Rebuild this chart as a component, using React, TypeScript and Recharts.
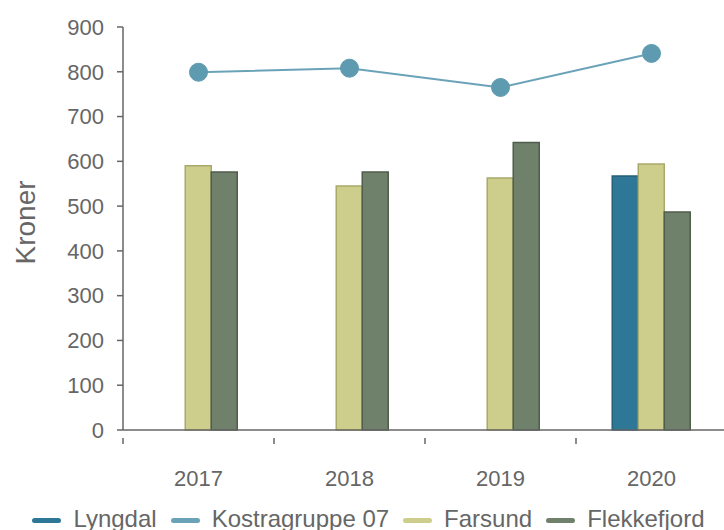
import React from 'react';
import { ComposedChart, Bar, Line, XAxis, YAxis, Legend } from 'recharts';

const years = ['2017', '2018', '2019', '2020'];
const lyngdal = [null, null, null, 567];
const kostragruppe07 = [799, 808, 765, 841];
const farsund = [590, 545, 563, 594];
const flekkefjord = [576, 576, 642, 487];
const yTicks = [0, 100, 200, 300, 400, 500, 600, 700, 800, 900];

const FONT = '"Liberation Sans", Arial, sans-serif';
const AXIS = '#666';

const series = [
  { key: 'Lyngdal', color: '#2f7797' },
  { key: 'Kostragruppe 07', color: '#6aa3b8' },
  { key: 'Farsund', color: '#cdcd8c' },
  { key: 'Flekkefjord', color: '#6f806b' },
];

const data = years.map((year, i) => ({
  year,
  Lyngdal: lyngdal[i],
  'Kostragruppe 07': kostragruppe07[i],
  Farsund: farsund[i],
  Flekkefjord: flekkefjord[i],
}));

// year label in the middle of the band, tick mark at the band's left edge
const YearTick = (props: any) => {
  const { x, y, payload } = props;
  const half = payload.offset || 0;
  return (
    <g>
      <line x1={x - half} x2={x - half} y1={y} y2={y + 6} stroke={AXIS} strokeWidth={1.5} />
      <text x={x} y={y + 48} textAnchor="middle" fill={AXIS} fontSize={22} fontFamily={FONT}>
        {payload.value}
      </text>
    </g>
  );
};

const KronerLabel = (props: any) => {
  const { viewBox } = props;
  const cx = 25;
  const cy = viewBox.y + viewBox.height / 2 - 6;
  return (
    <text
      x={cx}
      y={cy}
      transform={`rotate(-90, ${cx}, ${cy})`}
      textAnchor="middle"
      dominantBaseline="central"
      fill={AXIS}
      fontSize={28}
      fontFamily={FONT}
    >
      Kroner
    </text>
  );
};

const renderLegend = () => (
  <div
    style={{
      display: 'flex',
      justifyContent: 'center',
      height: 40,
      paddingTop: 17,
      paddingLeft: 10,
      boxSizing: 'border-box',
      fontFamily: FONT,
      fontSize: 24,
      lineHeight: '24px',
      color: AXIS,
      whiteSpace: 'nowrap',
    }}
  >
    {series.map((s, i) => (
      <span key={s.key} style={{ display: 'flex', alignItems: 'center', marginRight: i < series.length - 1 ? 14 : 0 }}>
        <span style={{ display: 'inline-block', width: 29, height: 5, borderRadius: 3, background: s.color, marginRight: 12, marginTop: 3 }} />
        {s.key}
      </span>
    ))}
  </div>
);

export default function App() {
  return (
    <div style={{ position: 'absolute', left: 0, top: 0, width: 724, height: 530, overflow: 'hidden', background: '#fff' }}>
      <ComposedChart
        width={730}
        height={530}
        data={data}
        margin={{ top: 27, right: 3, bottom: 0, left: 0 }}
        barCategoryGap="24%"
        barGap={0}
      >
        <XAxis
          dataKey="year"
          height={60}
          tickLine={false}
          axisLine={{ stroke: AXIS, strokeWidth: 1.5 }}
          tick={<YearTick />}
          interval={0}
        />
        <YAxis
          width={123}
          domain={[0, 900]}
          ticks={yTicks}
          interval={0}
          axisLine={{ stroke: AXIS, strokeWidth: 1.5 }}
          tickLine={{ stroke: AXIS, strokeWidth: 1.5 }}
          tickSize={6}
          tickMargin={13}
          tick={{ fill: AXIS, fontSize: 22, fontFamily: FONT }}
          label={<KronerLabel />}
        />
        <Legend verticalAlign="bottom" height={40} content={renderLegend} />
        <Bar dataKey="Lyngdal" fill="#2f7797" stroke="#245f7a" strokeWidth={1.5} isAnimationActive={false} />
        <Bar dataKey="Farsund" fill="#cdcd8c" stroke="#a9a96a" strokeWidth={1.5} isAnimationActive={false} />
        <Bar dataKey="Flekkefjord" fill="#6f806b" stroke="#4f5d4b" strokeWidth={1.5} isAnimationActive={false} />
        <Line
          dataKey="Kostragruppe 07"
          stroke="#6aa3b8"
          strokeWidth={2}
          dot={{ r: 9, fill: '#5f9bb0', stroke: '#5f9bb0', strokeWidth: 1 }}
          isAnimationActive={false}
        />
      </ComposedChart>
    </div>
  );
}
